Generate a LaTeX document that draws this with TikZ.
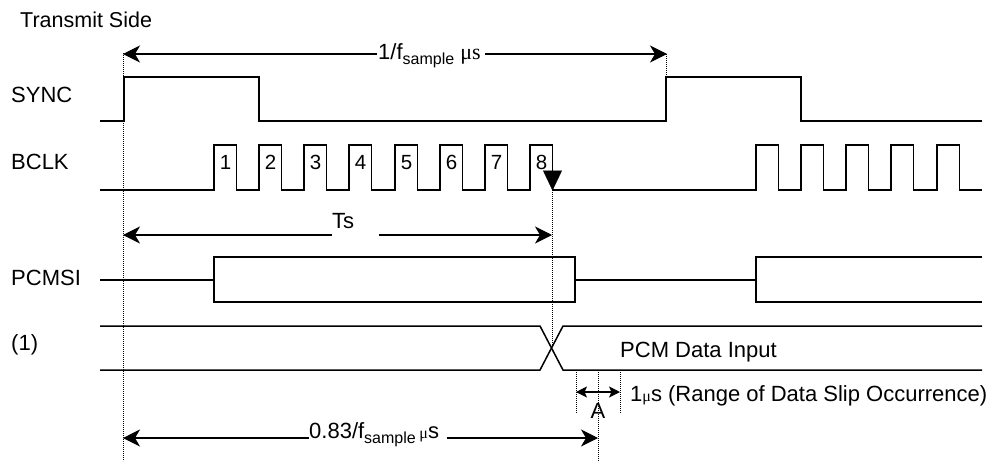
\documentclass[tikz,border=0pt]{standalone}
\usepackage{fontspec}
\setmainfont{Liberation Sans}
\newfontfamily\serifmu{Liberation Serif}
\usetikzlibrary{arrows.meta}
\newcommand\fsub{f\raisebox{-5pt}{\fontsize{16}{17}\selectfont sample}}
\begin{document}
\begin{tikzpicture}[x=1pt,y=-1pt,
  sig/.style={line width=1.5pt, line join=miter},
  dotv/.style={line width=0.6pt, dash pattern=on 0.8pt off 1.2pt},
  dim/.style={line width=1.3pt},
  bigtip/.style={-{Stealth[length=17pt,width=17pt,inset=5pt]}},
  smalltips/.style={{Stealth[length=11pt,width=11pt,inset=2.5pt]}-{Stealth[length=11pt,width=11pt,inset=2.5pt]}},
  lbl/.style={anchor=base west, inner sep=0pt, font=\fontsize{22}{25}\selectfont}]
\useasboundingbox (0,0) rectangle (1000,461);

% coordinates
\coordinate (d1t) at (123,53);  \coordinate (d1b) at (123,461);
\coordinate (d2t) at (666,54);  \coordinate (d2b) at (666,77);
\coordinate (d3t) at (552,190); \coordinate (d3b) at (552,348);
\coordinate (d4t) at (576,372); \coordinate (d4b) at (576,413);
\coordinate (d5t) at (598,372); \coordinate (d5b) at (598,461);
\coordinate (d6t) at (620,372); \coordinate (d6b) at (620,413);

% dotted guide lines
\draw[dotv] (d1t) -- (d1b);
\draw[dotv] (d2t) -- (d2b);
\draw[dotv] (d3t) -- (d3b);
\draw[dotv] (d4t) -- (d4b);
\draw[dotv] (d5t) -- (d5b);
\draw[dotv] (d6t) -- (d6b);

% labels
\node[lbl, font=\fontsize{21.5}{25}\selectfont] (ttl) at (20,27) {Transmit Side};
\node[lbl] (lsync) at (11,102.5) {SYNC};
\node[lbl] (lbclk) at (11,169.3) {BCLK};
\node[lbl] (lpcm) at (11,285.5) {PCMSI};
\node[lbl] (lone) at (11,350) {(1)};
\node[lbl] (ldata) at (620,357) {PCM Data Input};
\node[lbl] (lslip) at (630,401.5) {1{\serifmu\fontsize{16}{16}\selectfont μ}s (Range of Data Slip Occurrence)};
\node[lbl, anchor=base] (lA) at (598,418.5) {A};
\node[lbl] (lTs) at (332,228) {Ts};
\node[lbl] (lf1) at (378,59) {1/\fsub\ {\serifmu μs}};
\node[lbl] (lf2) at (309,438.5) {0.83/\fsub\,{\serifmu\fontsize{16}{16}\selectfont μ}s};

% SYNC
\draw[sig] (100,121) -- (124,121) -- (124,77) -- (259,77) -- (259,121) -- (666,121) -- (666,77) -- (801,77) -- (801,121) -- (982,121);

% BCLK
\draw[sig] (100,190)
  \foreach \r in {214,259,304,349,395,440,485,530} { -- (\r,190) -- (\r,145) -- (\r+22.7,145) -- (\r+22.7,190) }
  \foreach \r in {756,801,846,891,937} { -- (\r,190) -- (\r,145) -- (\r+22.5,145) -- (\r+22.5,190) }
  -- (982,190);
\foreach \r/\n in {214/1,259/2,304/3,349/4,395/5,440/6,485/7,530/8}
  \node[lbl, anchor=base, font=\fontsize{20.5}{22}\selectfont] (n\n) at (\r+11.5,169) {\n};
\coordinate (ah1) at (552.5,169);
\coordinate (ah2) at (552.5,190.5);
\draw[line width=0.1pt, -{Triangle[length=20pt,width=19pt]}] (ah1) -- (ah2);

% PCMSI
\draw[sig] (100,280) -- (214,280);
\draw[sig] (214,257) rectangle (575,302);
\draw[sig] (575,280) -- (756,280);
\draw[sig] (982,257) -- (756,257) -- (756,302) -- (982,302);

% (1)
\draw[sig] (100,326) -- (540,326) -- (563,370) -- (982,370);
\draw[sig] (100,370) -- (540,370) -- (563,326) -- (982,326);

% dimension arrows
\coordinate (a1l) at (123,54);  \coordinate (a1m) at (377,54);
\coordinate (a1n) at (485,54);  \coordinate (a1r) at (667,54);
\draw[dim,bigtip] (a1m) -- (a1l);
\draw[dim,bigtip] (a1n) -- (a1r);

\coordinate (a2l) at (123,235); \coordinate (a2m) at (332,235);
\coordinate (a2n) at (379,235); \coordinate (a2r) at (552,235);
\draw[dim,bigtip] (a2m) -- (a2l);
\draw[dim,bigtip] (a2n) -- (a2r);

\coordinate (a3l) at (123,438); \coordinate (a3m) at (309,438);
\coordinate (a3n) at (447,438); \coordinate (a3r) at (598,438);
\draw[dim,bigtip] (a3m) -- (a3l);
\draw[dim,bigtip] (a3n) -- (a3r);

\draw[dim,smalltips] (d4t |- 0,392) -- (d6t |- 0,392);
\end{tikzpicture}
\end{document}
